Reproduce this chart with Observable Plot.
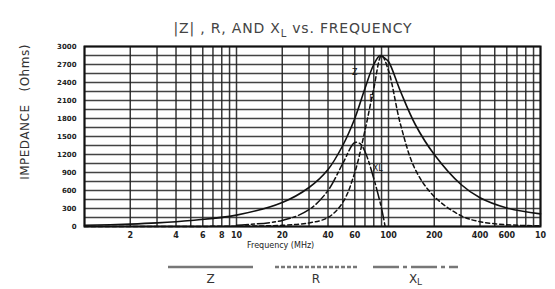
<!DOCTYPE html>
<html>
<head>
<meta charset="utf-8">
<script src="https://cdn.jsdelivr.net/npm/d3@7"></script>
<script src="https://cdn.jsdelivr.net/npm/@observablehq/plot@0.6"></script>
<style>
  body { margin: 0; background: #fff; }
  #wrap { position: relative; width: 555px; height: 289px; overflow: hidden; font-family: "DejaVu Sans", sans-serif; color: #222; }
  #plot { position: absolute; left: 0; top: 0; }
  #title { position: absolute; left: 0; width: 586px; top: 20px; text-align: center; font-size: 14px; letter-spacing: 0.8px; color: #444; }
  #xlab { position: absolute; left: 247px; top: 241px; font-size: 8px; color: #222; }
  #ylab { position: absolute; left: 25px; top: 112px; transform: translate(-50%, -50%) rotate(-90deg); font-size: 12px; white-space: nowrap; color: #333; letter-spacing: 0.5px; }
  #legend { position: absolute; left: 0; top: 255px; }
</style>
</head>
<body>
<div id="wrap">
  <div id="plot"></div>
  <div id="title">|Z| , R, AND X<sub style="font-size:10px">L</sub> vs. FREQUENCY</div>
  <div id="ylab">IMPEDANCE&nbsp;&nbsp;&nbsp;(Ohms)</div>
  <div id="xlab">Frequency (MHz)</div>
  <svg id="legend" width="555" height="34"></svg>
</div>
<script>
// Frequencies (MHz) and series values (Ohms)
const zFreq = [1, 2, 3, 5, 10, 20, 30, 40, 50, 60, 70, 80, 88, 95, 100, 120, 150, 200, 300, 400, 600, 1000];
const zVals = [20, 40, 60, 100, 190, 400, 650, 950, 1350, 1800, 2300, 2700, 2850, 2800, 2750, 2250, 1700, 1200, 700, 480, 310, 210];

const rFreq = [1, 10, 20, 30, 40, 50, 60, 70, 80, 90, 100, 120, 150, 200, 300, 400, 600, 1000];
const rVals = [0, 5, 20, 60, 150, 400, 900, 1600, 2300, 2850, 2600, 1700, 950, 500, 180, 80, 30, 10];

const xFreq = [10, 20, 30, 40, 50, 60, 65, 70, 80, 90, 95];
const xVals = [20, 100, 280, 600, 1050, 1400, 1380, 1250, 800, 300, 0];

const yTicks = [0, 300, 600, 900, 1200, 1500, 1800, 2100, 2400, 2700, 3000];
const xTicks = [2, 4, 6, 8, 10, 20, 40, 60, 100, 200, 400, 600, 1000];
const xTickLabels = ["2", "4", "6", "8", "10", "20", "40", "60", "100", "200", "400", "600", "10"];
const xGrid = [1,2,3,4,5,6,7,8,9,10,20,30,40,50,60,70,80,90,100,200,300,400,500,600,700,800,900,1000];
const yGrid = d3.range(0, 3001, 150);

const curveLabels = [
  {f: 60, v: 2560, t: "Z"},
  {f: 78, v: 2130, t: "R"},
  {f: 85, v: 970, t: "XL"}
];

const zData = zFreq.map((f, i) => ({f, v: zVals[i]}));
const rData = rFreq.map((f, i) => ({f, v: rVals[i]}));
const xData = xFreq.map((f, i) => ({f, v: xVals[i]}));
const xTickData = xTicks.map((f, i) => ({f, t: xTickLabels[i]}));

const chart = Plot.plot({
  width: 555,
  height: 289,
  marginLeft: 84,
  marginRight: 15,
  marginTop: 46,
  marginBottom: 63,
  style: {fontFamily: "DejaVu Sans, sans-serif", color: "#222", background: "transparent"},
  x: {type: "log", domain: [1, 1000], axis: null},
  y: {domain: [0, 3000]},
  marks: [
    Plot.ruleX(xGrid, {stroke: "#222", strokeWidth: 1.5, strokeOpacity: 0.9}),
    Plot.ruleY(yGrid, {stroke: "#222", strokeWidth: 1.4, strokeOpacity: 0.85}),
    Plot.text(xTickData, {x: "f", text: "t", frameAnchor: "bottom", dy: 11, fontSize: 8, fontWeight: "bold", fill: "#222"}),
    Plot.axisY({ticks: yTicks, tickSize: 0, tickPadding: 8, fontSize: 7, fontWeight: "bold", label: null, tickFormat: d => String(d)}),
    Plot.line(zData, {x: "f", y: "v", curve: "catmull-rom", stroke: "#111", strokeWidth: 1.6}),
    Plot.line(rData, {x: "f", y: "v", curve: "catmull-rom", stroke: "#111", strokeWidth: 1.5, strokeDasharray: "4,3"}),
    Plot.line(xData, {x: "f", y: "v", curve: "catmull-rom", stroke: "#111", strokeWidth: 1.5, strokeDasharray: "12,3,3,3"}),
    Plot.text(curveLabels, {x: "f", y: "v", text: "t", fontSize: 8, fill: "#111"}),
    Plot.frame({stroke: "#111", strokeWidth: 2})
  ]
});
document.getElementById("plot").appendChild(chart);

// Legend
const legendItems = [
  {name: "Z", sub: "", dash: null, x0: 168, x1: 253},
  {name: "R", sub: "", dash: "4,2", x0: 275, x1: 357},
  {name: "X", sub: "L", dash: "26,4,4,4", x0: 373, x1: 458}
];
const lg = d3.select("#legend");
legendItems.forEach(it => {
  const line = lg.append("line").attr("x1", it.x0).attr("x2", it.x1).attr("y1", 12).attr("y2", 12)
    .attr("stroke", "#777").attr("stroke-width", 2.5);
  if (it.dash) line.attr("stroke-dasharray", it.dash);
  const t = lg.append("text").attr("x", (it.x0 + it.x1) / 2).attr("y", 28).attr("text-anchor", "middle")
    .attr("font-size", 12).attr("font-family", "DejaVu Sans, sans-serif").attr("fill", "#333").text(it.name);
  if (it.sub) t.append("tspan").attr("font-size", 9).attr("dy", 2).text(it.sub);
});
</script>
</body>
</html>
